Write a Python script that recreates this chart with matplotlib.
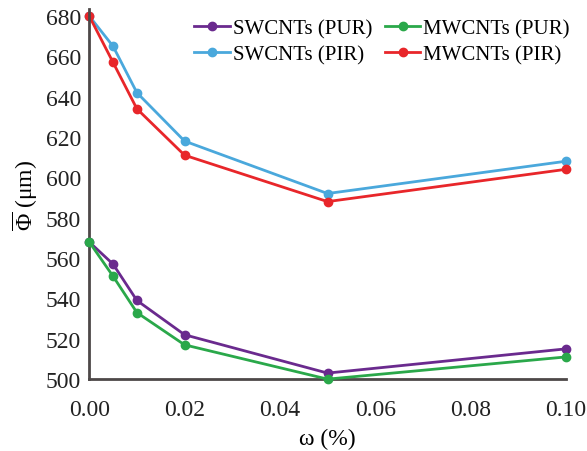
import matplotlib.pyplot as plt

plt.rcParams['font.family'] = ['Liberation Serif', 'DejaVu Serif']
plt.rcParams['mathtext.fontset'] = 'custom'
plt.rcParams['mathtext.rm'] = 'Liberation Serif'
plt.rcParams['mathtext.it'] = 'Liberation Serif:italic'

# mass fraction of nanotubes (%)
omega = [0.0, 0.005, 0.01, 0.02, 0.05, 0.10]

# mean cell size (um)
sw_pur = [568, 557, 539, 522, 503, 515]
mw_pur = [568, 551, 533, 517, 500, 511]
sw_pir = [680, 665, 642, 618, 592, 608]
mw_pir = [680, 657, 634, 611, 588, 604]

fig = plt.figure(figsize=(5.87, 4.52), dpi=100)
ax = fig.add_axes([0.152, 0.159, 0.812, 0.819])

ax.plot(omega, sw_pur, '-o', color='#6a2a8e', lw=2, ms=6, label='SWCNTs (PUR)', clip_on=False)
ax.plot(omega, sw_pir, '-o', color='#4aa8dc', lw=2, ms=6, label='SWCNTs (PIR)', clip_on=False)
ax.plot(omega, mw_pur, '-o', color='#2aa84a', lw=2, ms=6, label='MWCNTs (PUR)', clip_on=False, zorder=3)
ax.plot(omega, mw_pir, '-o', color='#e8262a', lw=2, ms=6, label='MWCNTs (PIR)', clip_on=False)

ax.set_xlim(0, 0.10)
ax.set_ylim(500, 683.5)
ax.set_xticks([0.0, 0.02, 0.04, 0.06, 0.08, 0.10])
ax.set_xticklabels(['0.00', '0.02', '0.04', '0.06', '0.08', '0.10'])
ax.set_yticks(range(500, 681, 20))

for s in ['top', 'right']:
    ax.spines[s].set_visible(False)
for s in ['left', 'bottom']:
    ax.spines[s].set_color('#4d4848')
    ax.spines[s].set_linewidth(2)
ax.tick_params(axis='both', length=0, labelsize=17, colors='#222222')
ax.tick_params(axis='x', pad=14)
ax.tick_params(axis='y', pad=6)

ax.set_xlabel('ω (%)', fontsize=17, labelpad=6)
ax.set_ylabel(r'$\overline{\Phi}$ (μm)', fontsize=17, labelpad=4)

ax.legend(ncol=2, loc='upper right', bbox_to_anchor=(0.985, 0.975),
          bbox_transform=fig.transFigure, borderaxespad=0, frameon=False,
          fontsize=15, handlelength=1.7, handletextpad=0.15, columnspacing=0.6,
          labelspacing=0.3)

fig.savefig('out.png', dpi=100)
